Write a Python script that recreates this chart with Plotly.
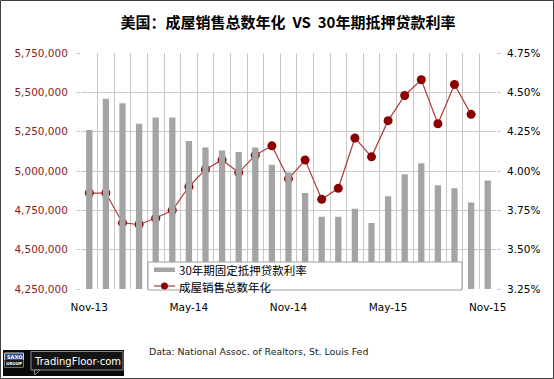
import plotly.graph_objects as go

months = ["Nov-13", "Dec-13", "Jan-14", "Feb-14", "Mar-14", "Apr-14", "May-14", "Jun-14",
          "Jul-14", "Aug-14", "Sep-14", "Oct-14", "Nov-14", "Dec-14", "Jan-15", "Feb-15",
          "Mar-15", "Apr-15", "May-15", "Jun-15", "Jul-15", "Aug-15", "Sep-15", "Oct-15",
          "Nov-15"]
mortgage_rate = [4.26, 4.46, 4.43, 4.30, 4.34, 4.34, 4.19, 4.15, 4.13, 4.12, 4.15, 4.04,
                 3.99, 3.86, 3.71, 3.71, 3.76, 3.67, 3.84, 3.98, 4.05, 3.91, 3.89, 3.80, 3.94]
home_sales = [4860000, 4860000, 4670000, 4660000, 4700000, 4750000, 4900000, 5010000,
              5070000, 4990000, 5100000, 5160000, 4950000, 5070000, 4820000, 4890000,
              5210000, 5090000, 5320000, 5480000, 5580000, 5300000, 5550000, 5360000, None]
tick_labels = ["Nov-13", "May-14", "Nov-14", "May-15", "Nov-15"]

bar_name = "30年期固定抵押贷款利率"
line_name = "成屋销售总数年化"
title_text = "美国：成屋销售总数年化&nbsp;&nbsp;VS&nbsp;&nbsp;30年期抵押贷款利率"
source_text = "Data: National Assoc. of Realtors, St. Louis Fed"

BAR_C = "#a4a4a4"
LINE_C = "#b03a3a"
MARK_C = "#8b0000"
GRID_C = "#c8c8c8"

W, H = 554, 379
ML, MR, MT, MB = 81, 58, 53, 90
PW, PH = W - ML - MR, H - MT - MB


def px(x):
    return (x - ML) / PW


def py(y):
    return (H - MB - y) / PH


xs = list(range(len(months)))
tick_idx = [months.index(t) for t in tick_labels]

fig = go.Figure()
fig.add_trace(go.Bar(
    x=xs, y=mortgage_rate, name=bar_name, yaxis="y2",
    marker=dict(color=BAR_C, line=dict(width=0)), width=0.38,
))
fig.add_trace(go.Scatter(
    x=xs, y=home_sales, name=line_name, yaxis="y", mode="lines+markers",
    line=dict(color=LINE_C, width=1.2),
    marker=dict(color=MARK_C, size=9),
))

fig.update_layout(
    width=W, height=H,
    margin=dict(l=ML, r=MR, t=MT, b=MB),
    paper_bgcolor="white", plot_bgcolor="white",
    font=dict(family="DejaVu Sans", size=10.5, color="#000"),
    showlegend=False,
    barmode="overlay",
    xaxis=dict(
        range=[-0.5, len(months) - 0.5], tickmode="array",
        tickvals=tick_idx, ticktext=tick_labels, showgrid=False, zeroline=False,
        ticks="", showline=False, ticklabelstandoff=10,
        tickfont=dict(size=10.5, color="#000"),
        minor=dict(tickmode="linear", tick0=-0.5, dtick=1, showgrid=True,
                   gridcolor=GRID_C, gridwidth=1, ticks=""),
        fixedrange=True,
    ),
    yaxis=dict(
        range=[4250000, 5750000], dtick=250000, tick0=4250000, tickformat=",d",
        showgrid=True, gridcolor=GRID_C, gridwidth=1, zeroline=False,
        ticks="outside", ticklen=4, tickcolor=GRID_C, ticklabelstandoff=6,
        tickfont=dict(size=10.5, color="#8c1c1c"),
    ),
    yaxis2=dict(
        range=[3.25, 4.75], dtick=0.25, tick0=3.25, tickformat=".2f", ticksuffix="%",
        overlaying="y", side="right", showgrid=False, zeroline=False,
        ticks="outside", ticklen=4, tickcolor=GRID_C, ticklabelstandoff=4,
        tickfont=dict(size=10.5, color="#000"),
    ),
    title=dict(
        text="<b>" + title_text + "</b>", x=288 / W, xref="container",
        xanchor="center", y=1 - 23 / H, yanchor="middle",
        font=dict(family="Noto Sans CJK SC", size=15, color="#000"),
    ),
)

shapes = []
# legend box (drawn manually so it matches the compact original)
shapes.append(dict(type="rect", xref="paper", yref="paper",
                   x0=px(148), x1=px(462), y0=py(290), y1=py(262),
                   line=dict(color="#a0a0a0", width=1), fillcolor="white", layer="above"))
shapes.append(dict(type="rect", xref="paper", yref="paper",
                   x0=px(154), x1=px(175), y0=py(272), y1=py(267.5),
                   line=dict(width=0), fillcolor=BAR_C, layer="above"))
shapes.append(dict(type="line", xref="paper", yref="paper",
                   x0=px(154), x1=px(175), y0=py(286), y1=py(286),
                   line=dict(color=LINE_C, width=1.2), layer="above"))
shapes.append(dict(type="circle", xref="paper", yref="paper",
                   x0=px(161), x1=px(168), y0=py(289.5), y1=py(282.5),
                   line=dict(width=0), fillcolor=MARK_C, layer="above"))
# outer border
shapes.append(dict(type="rect", xref="paper", yref="paper",
                   x0=px(0.5), x1=px(W - 0.5), y0=py(H - 0.5), y1=py(0.5),
                   line=dict(color="#404040", width=1), fillcolor="rgba(0,0,0,0)", layer="above"))
# logo
shapes.append(dict(type="rect", xref="paper", yref="paper",
                   x0=px(3), x1=px(124), y0=py(376), y1=py(350),
                   line=dict(width=0), fillcolor="#0a0a0a", layer="above"))
shapes.append(dict(type="rect", xref="paper", yref="paper",
                   x0=px(4.5), x1=px(23.5), y0=py(367), y1=py(353),
                   line=dict(color="#d0d0d0", width=1), fillcolor="#2b4d8c", layer="above"))
shapes.append(dict(type="rect", xref="paper", yref="paper",
                   x0=px(4.5), x1=px(23.5), y0=py(367), y1=py(360),
                   line=dict(width=0), fillcolor="#1a1a1a", layer="above"))
shapes.append(dict(type="rect", xref="paper", yref="paper",
                   x0=px(31), x1=px(123), y0=py(370), y1=py(351.5),
                   line=dict(color="#8a8a8a", width=1), fillcolor="#141414", layer="above"))
shapes.append(dict(type="path", xref="paper", yref="paper",
                   path="M %f,%f L %f,%f L %f,%f Z" % (px(34), py(370), px(35), py(375), px(40), py(370)),
                   line=dict(color="#8a8a8a", width=1), fillcolor="#141414", layer="above"))
fig.update_layout(shapes=shapes)

annotations = [
    dict(text=bar_name, x=px(177), y=py(270), xref="paper", yref="paper",
         xanchor="left", yanchor="middle", showarrow=False,
         font=dict(family="Noto Sans CJK SC", size=11.5, color="#000")),
    dict(text=line_name, x=px(177), y=py(286.5), xref="paper", yref="paper",
         xanchor="left", yanchor="middle", showarrow=False,
         font=dict(family="Noto Sans CJK SC", size=11.5, color="#000")),
    dict(text=source_text, x=px(147), y=py(351), xref="paper", yref="paper",
         xanchor="left", yanchor="middle", showarrow=False,
         font=dict(family="DejaVu Sans", size=9.4, color="#1a1a1a")),
    dict(text="TradingFloor·com", x=px(77), y=py(361), xref="paper", yref="paper",
         xanchor="center", yanchor="middle", showarrow=False,
         font=dict(family="DejaVu Sans", size=10, color="#ffffff")),
    dict(text="<b>SAXO</b>", x=px(14), y=py(356.5), xref="paper", yref="paper",
         xanchor="center", yanchor="middle", showarrow=False,
         font=dict(family="DejaVu Sans", size=5, color="#ffffff")),
    dict(text="<b>GROUP</b>", x=px(14), y=py(363.5), xref="paper", yref="paper",
         xanchor="center", yanchor="middle", showarrow=False,
         font=dict(family="DejaVu Sans", size=4, color="#ffffff")),
]
fig.update_layout(annotations=annotations)

fig.write_html("out.html", config={"displayModeBar": False},
               post_script="document.body.style.margin='0';document.body.style.overflow='hidden';")
